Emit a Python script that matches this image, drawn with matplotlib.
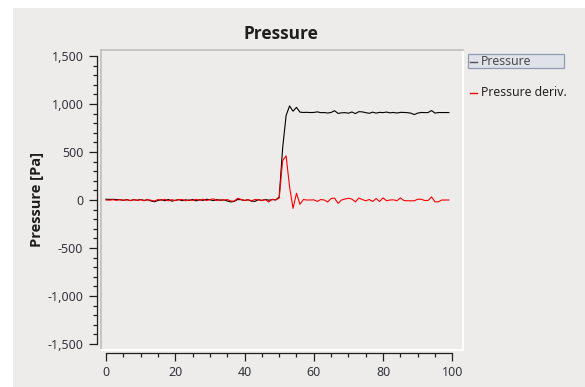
import matplotlib
matplotlib.use("Agg")
import matplotlib.pyplot as plt
from matplotlib.patches import Rectangle
from matplotlib.lines import Line2D
from matplotlib.ticker import MultipleLocator, FixedLocator, FuncFormatter
from matplotlib import font_manager as fm
import os

plt.rcParams['font.family'] = ['Noto Sans', 'DejaVu Sans']


def bold_family():
    for fam in ('Noto Sans', 'Open Sans', 'Lato', 'Roboto', 'Inter', 'DejaVu Sans'):
        try:
            path = fm.findfont(fm.FontProperties(family=fam, weight='bold'),
                               fallback_to_default=False)
        except Exception:
            continue
        name = os.path.basename(path).lower()
        if 'bold' in name or name.endswith('-b.ttf'):
            return fam
    return 'DejaVu Sans'


BOLD = bold_family()

# ---- data -------------------------------------------------------------
samples = list(range(100))

pressure = [
    8, 6, 7, 5, 2, -3, 4, -6, 3, -2,
    5, -4, 2, -10, -18, -5, 3, -8, 6, -12,
    -3, 4, -7, 2, -5, 6, -9, 3, -4, 8,
    2, -6, 4, -3, 1, -10, -20, -15, 5, 3,
    -5, 2, -12, -14, 3, -4, 6, -2, 4, 2,
    30, 540, 880, 980, 925, 965, 915, 912, 913, 911,
    912, 918, 910, 911, 906, 912, 930, 902, 908, 910,
    904, 917, 900, 920, 918, 910, 903, 915, 905, 913,
    910, 916, 908, 912, 906, 913, 912, 910, 905, 890,
    905, 912, 910, 911, 932, 905, 911, 911, 911, 911,
]

pressure_deriv = [
    0, -2, 3, -4, 5, -3, 2, -6, 4, -5,
    3, -8, 6, -4, -10, 5, -3, 7, -9, 4,
    -6, 3, 5, -8, 2, -4, 6, -3, 8, -5,
    4, 12, -6, 3, -2, 5, -10, -12, 18, 6,
    -4, 3, -8, 5, 2, -6, 4, -20, 8, 0,
    20, 410, 460, 138, -87, 70, -45, 5, 0, 0,
    2, -15, 5, 0, -20, 15, 20, -35, 0, 10,
    18, 10, -20, 20, 5, -8, 5, -15, 15, -15,
    22, -8, 0, 2, -8, 22, -5, -8, -8, -8,
    8, 8, -5, -5, 32, -20, -18, 0, 0, 0,
]

y_ticks = [-1500, -1000, -500, 0, 500, 1000, 1500]
x_ticks = [0, 20, 40, 60, 80, 100]

# ---- figure -------------------------------------------------------------
W, H = 585, 387
BG = '#edecea'
fig = plt.figure(figsize=(W / 100, H / 100), dpi=100, facecolor='white')


def fx(px):
    return px / W


def fy(py):
    return 1 - py / H


# window panel behind everything
fig.patches.append(Rectangle((fx(13), 0), 1, fy(8), transform=fig.transFigure,
                             facecolor=BG, edgecolor='none', zorder=-10))

# plot canvas
ax = fig.add_axes([fx(100.5), fy(350), (462.7 - 100.5) / W, 300 / H])
ax.set_facecolor(BG)
ax.set_xlim(-1.6, 103.0)
ax.set_ylim(-1562.5, 1562.5)
ax.set_xticks([])
ax.set_yticks([])
for side, col in (('top', '#c4c2c0'), ('left', '#c4c2c0'),
                  ('right', 'white'), ('bottom', 'white')):
    ax.spines[side].set_color(col)
    ax.spines[side].set_linewidth(1.3)

ax.plot(samples, pressure, color='black', lw=0.8, zorder=3)
ax.plot(samples, pressure_deriv, color='#ff0000', lw=0.8, zorder=4)

tick_color = '#202020'
label_color = '#34343c'

# left scale
ay = fig.add_axes([fx(96.5), fy(344), 1e-4, 288 / H])
ay.patch.set_visible(False)
for s in ('top', 'right', 'bottom'):
    ay.spines[s].set_visible(False)
ay.spines['left'].set_color(tick_color)
ay.spines['left'].set_linewidth(0.9)
ay.set_ylim(-1500, 1500)
ay.yaxis.set_major_locator(FixedLocator(y_ticks))
ay.yaxis.set_minor_locator(MultipleLocator(100))
ay.yaxis.set_major_formatter(FuncFormatter(lambda v, p: f"{int(v):,}"))
ay.tick_params(axis='y', which='major', direction='out', length=6, width=0.9,
               color=tick_color, labelsize=9, labelcolor=label_color, pad=3.5)
ay.tick_params(axis='y', which='minor', direction='out', length=3, width=0.9,
               color=tick_color)
ay.set_xticks([])

fig.text(fx(37), fy(200), 'Pressure [Pa]', rotation=90, ha='center', va='center',
         fontsize=10.5, fontweight='bold', family=BOLD, color='#1e1e1e')

# bottom scale
axx = fig.add_axes([fx(106), fy(353), 346.3 / W, 1e-4])
axx.patch.set_visible(False)
for s in ('top', 'right', 'left'):
    axx.spines[s].set_visible(False)
axx.spines['bottom'].set_color(tick_color)
axx.spines['bottom'].set_linewidth(0.9)
axx.set_xlim(0, 100)
axx.xaxis.set_major_locator(FixedLocator(x_ticks))
axx.xaxis.set_minor_locator(MultipleLocator(5))
axx.tick_params(axis='x', which='major', direction='out', length=6, width=0.9,
                color=tick_color, labelsize=9, labelcolor=label_color, pad=3.5)
axx.tick_params(axis='x', which='minor', direction='out', length=3, width=0.9,
                color=tick_color)
axx.set_yticks([])

# title
fig.text(fx(281), fy(34), 'Pressure', ha='center', va='center', fontsize=12.5,
         fontweight='bold', family=BOLD, color='#1e1e1e')

# legend
fig.patches.append(Rectangle((fx(467.7), fy(67.7)), (564.3 - 467.7) / W, 13.7 / H,
                             transform=fig.transFigure, facecolor='#dfe2e8',
                             edgecolor='#8e9cb6', linewidth=0.9, zorder=2))
fig.lines.append(Line2D([fx(469.5), fx(476.5)], [fy(61.5), fy(61.5)],
                        transform=fig.transFigure, color='#505050', lw=1.0, zorder=3))
fig.text(fx(481), fy(61.5), 'Pressure', ha='left', va='center', fontsize=8.8,
         color='#4a4a4a', zorder=3)
fig.lines.append(Line2D([fx(469.5), fx(476.5)], [fy(92.5), fy(92.5)],
                        transform=fig.transFigure, color='#ff0000', lw=1.0, zorder=3))
fig.text(fx(481), fy(92.5), 'Pressure deriv.', ha='left', va='center', fontsize=8.8,
         color='#222222', zorder=3)

fig.savefig('out.png', dpi=100, facecolor='white')
